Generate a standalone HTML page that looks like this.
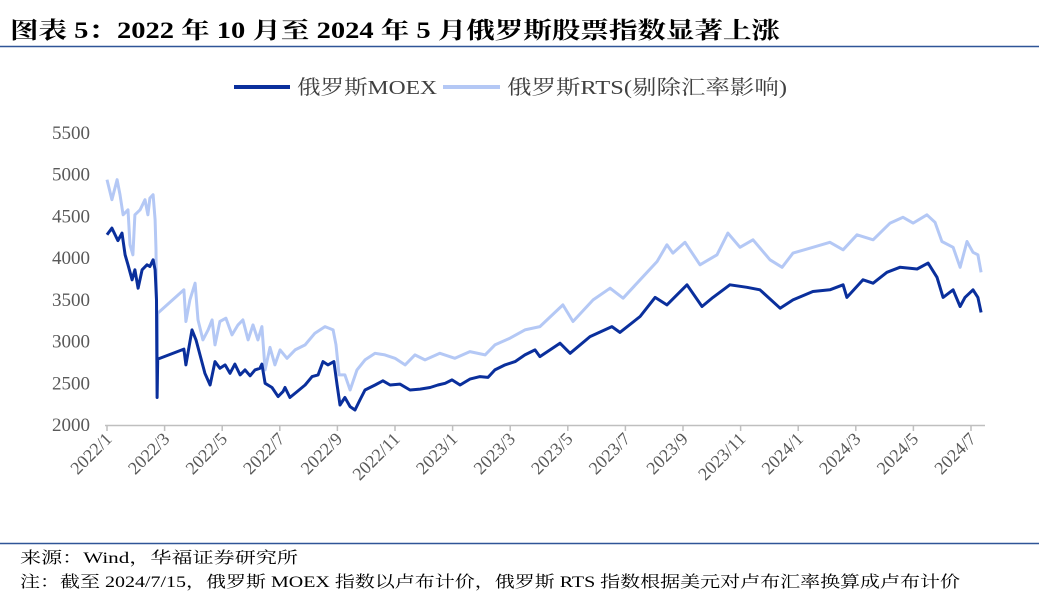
<!DOCTYPE html>
<html><head><meta charset="utf-8"><style>
body{margin:0;background:#fff;width:1039px;height:600px;overflow:hidden;font-family:"Liberation Serif","Noto Serif CJK SC",serif;}
</style></head><body>
<svg width="1039" height="600" xmlns="http://www.w3.org/2000/svg">
<text x="10" y="38" font-size="23" font-weight="bold" fill="#000" textLength="770" lengthAdjust="spacingAndGlyphs" font-family="Liberation Serif, Noto Serif CJK SC, serif">图表 5：2022 年 10 月至 2024 年 5 月俄罗斯股票指数显著上涨</text>
<line x1="0" y1="46.5" x2="1039" y2="46.5" stroke="#2f5597" stroke-width="1.5"/>
<g>
<line x1="234" y1="87" x2="290" y2="87" stroke="#0a2f9c" stroke-width="4"/>
<text x="297" y="94" font-size="20" fill="#404040" textLength="140" lengthAdjust="spacingAndGlyphs">俄罗斯MOEX</text>
<line x1="443" y1="87" x2="500" y2="87" stroke="#b4c8f5" stroke-width="4"/>
<text x="507" y="94" font-size="20" fill="#404040" textLength="280" lengthAdjust="spacingAndGlyphs">俄罗斯RTS(剔除汇率影响)</text>
</g>
<g id="yaxis"></g><g id="xaxis"></g><g id="series"></g>
<line x1="0" y1="543.5" x2="1039" y2="543.5" stroke="#2f5597" stroke-width="1.5"/>
<text x="20" y="563" font-size="16" fill="#000" textLength="278" lengthAdjust="spacingAndGlyphs">来源：Wind，华福证券研究所</text>
<text x="20" y="587" font-size="16" fill="#000" textLength="940" lengthAdjust="spacingAndGlyphs">注：截至 2024/7/15，俄罗斯 MOEX 指数以卢布计价，俄罗斯 RTS 指数根据美元对卢布汇率换算成卢布计价</text>
</svg>
<script>
const yTicks=[2000,2500,3000,3500,4000,4500,5000,5500];
const xTickLabels=["2022/1","2022/3","2022/5","2022/7","2022/9","2022/11","2023/1","2023/3","2023/5","2023/7","2023/9","2023/11","2024/1","2024/3","2024/5","2024/7"];
// months since 2022-01-01
const moexT=[0,.17,.38,.52,.63,.73,.87,.97,1.08,1.22,1.39,1.49,1.6,1.67,1.72,1.74,1.76,2.67,2.74,2.95,3.09,3.23,3.4,3.58,3.75,3.92,4.1,4.27,4.44,4.62,4.79,4.97,5.14,5.31,5.38,5.49,5.73,5.94,6.11,6.18,6.35,6.6,6.88,7.12,7.33,7.5,7.67,7.88,7.99,8.09,8.26,8.44,8.61,8.78,8.96,9.31,9.58,9.83,10.17,10.52,10.87,11.22,11.49,11.74,11.98,12.26,12.6,12.95,13.23,13.47,13.82,14.17,14.51,14.86,15.03,15.73,16.08,16.77,17.53,17.81,18.51,19.03,19.44,20.14,20.66,21.04,21.63,22.22,22.67,23.37,23.82,24.51,25.1,25.56,25.69,26.25,26.6,27.08,27.53,28.13,28.51,28.82,29.03,29.38,29.62,29.79,30.07,30.24,30.35];
const moexV=[4280,4360,4210,4300,4040,3920,3740,3860,3640,3860,3920,3900,3980,3860,3500,2330,2790,2910,2720,3140,3020,2840,2620,2480,2760,2680,2720,2620,2730,2600,2660,2590,2660,2680,2730,2500,2450,2340,2400,2450,2330,2400,2480,2580,2600,2760,2720,2760,2480,2240,2330,2220,2180,2300,2420,2480,2530,2480,2490,2420,2430,2450,2480,2500,2540,2480,2550,2580,2570,2660,2720,2760,2840,2900,2820,2980,2860,3060,3180,3110,3300,3530,3440,3680,3420,3530,3680,3650,3620,3400,3500,3600,3620,3680,3530,3740,3700,3830,3890,3870,3940,3770,3530,3620,3420,3530,3620,3530,3350];
const rtsT=[0,.17,.35,.45,.56,.73,.8,.9,.97,1.15,1.32,1.42,1.49,1.6,1.67,1.7,1.72,1.74,1.76,2.67,2.74,2.88,3.06,3.16,3.33,3.51,3.65,3.75,3.92,4.13,4.34,4.55,4.72,4.9,5.07,5.24,5.38,5.49,5.66,5.83,6.01,6.25,6.53,6.88,7.22,7.57,7.85,7.95,8.06,8.26,8.44,8.68,8.96,9.31,9.65,10,10.35,10.69,11.04,11.56,12.08,12.6,13.13,13.47,13.99,14.51,15.03,15.83,16.18,16.88,17.47,17.92,18.51,19.1,19.44,19.65,20.07,20.59,21.18,21.56,21.98,22.43,23.02,23.44,23.82,24.51,25.1,25.56,26.04,26.6,27.19,27.64,27.99,28.47,28.75,28.99,29.38,29.62,29.86,30.07,30.24,30.35];
const rtsV=[4940,4700,4940,4760,4520,4580,4160,4040,4520,4580,4700,4520,4720,4760,4460,4100,3440,2420,3340,3620,3240,3500,3700,3260,3020,3140,3260,2960,3240,3280,3080,3200,3260,3020,3200,3020,3180,2660,2930,2720,2900,2800,2900,2960,3100,3180,3140,2960,2600,2600,2420,2660,2780,2860,2840,2800,2720,2840,2780,2860,2800,2880,2840,2960,3040,3140,3180,3440,3240,3500,3640,3520,3740,3960,4160,4060,4190,3920,4040,4300,4130,4220,3980,3890,4060,4130,4190,4100,4280,4220,4420,4490,4420,4520,4430,4200,4130,3890,4200,4070,4040,3830];
const NS="http://www.w3.org/2000/svg";
const X=t=>107+t*28.8, Y=v=>425-(v-2000)*(292/3500);
function mk(tag,attrs,parent){const e=document.createElementNS(NS,tag);for(const k in attrs)e.setAttribute(k,attrs[k]);parent.appendChild(e);return e;}
const ya=document.getElementById('yaxis');
yTicks.forEach(v=>{const t=mk('text',{x:90,y:Y(v)+6,'text-anchor':'end','font-size':19,fill:'#595959'},ya);t.textContent=v;

});
const xa=document.getElementById('xaxis');
const ax=mk('line',{x1:105,y1:425.5,x2:985,y2:425.5,stroke:'#bfbfbf','stroke-width':1.5},xa);


xTickLabels.forEach((s,i)=>{const x=X(i*2);
const tk=mk('line',{x1:x,y1:425,x2:x,y2:431,stroke:'#bfbfbf','stroke-width':1.5},xa);


const t=mk('text',{x:x+6,y:440,'text-anchor':'end','font-size':18,fill:'#595959',transform:`rotate(-45 ${x+6} 440)`},xa);t.textContent=s;

});
const sg=document.getElementById('series');
function line(T,V,c,name){const d=T.map((t,i)=>(i?'L':'M')+X(t).toFixed(1)+' '+Y(V[i]).toFixed(1)).join('');
const p=mk('path',{d:d,fill:'none',stroke:c,'stroke-width':3,'stroke-linejoin':'round'},sg);

}
line(rtsT,rtsV,'#b4c8f5','rts-line');
line(moexT,moexV,'#0a2f9c','moex-line');
</script>
</body></html>
